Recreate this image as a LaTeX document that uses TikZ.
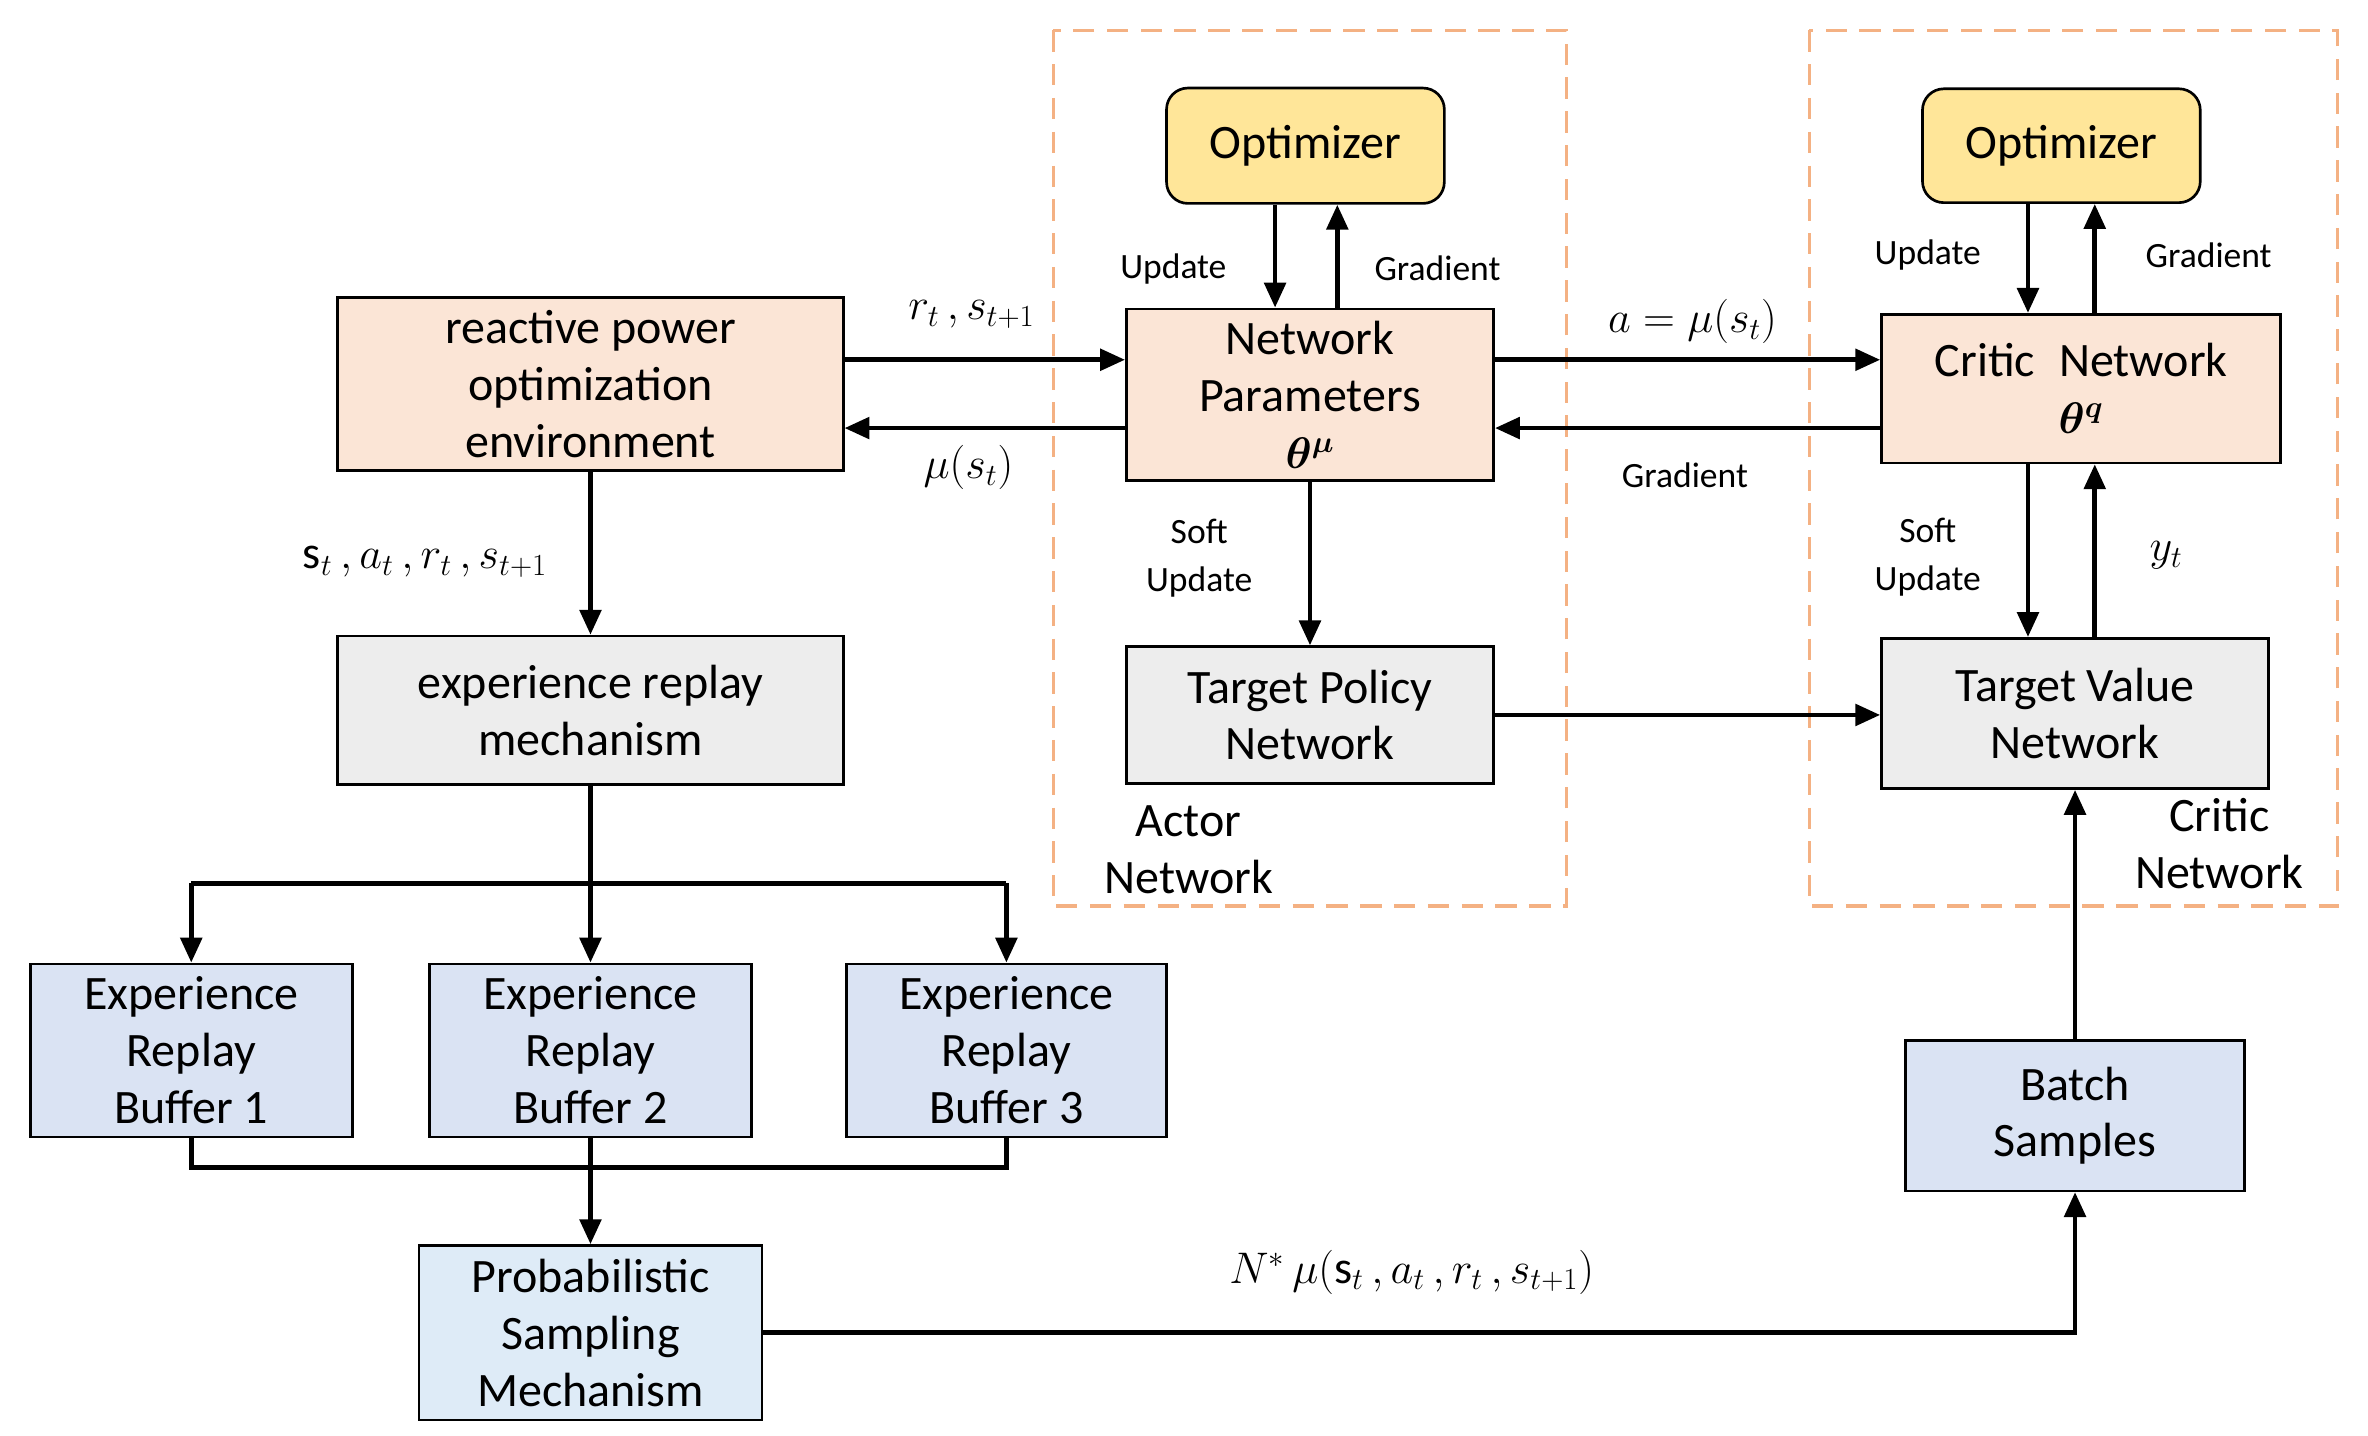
\documentclass[tikz,border=0pt]{standalone}
\usepackage{amsmath}
\usepackage{fontspec}
\setmainfont{Carlito}
\usetikzlibrary{arrows.meta}
\definecolor{peach}{HTML}{FBE5D6}
\definecolor{ylw}{HTML}{FFE699}
\definecolor{gry}{HTML}{EDEDED}
\definecolor{blu}{HTML}{DAE3F3}
\definecolor{lblu}{HTML}{DEEBF7}
\definecolor{orng}{HTML}{F4B183}
\begin{document}
\begin{tikzpicture}[x=0.03cm,y=-0.03cm,
  box/.style={draw,line width=1.5pt,align=center,font=\fontsize{27}{32}\selectfont,inner sep=0pt},
  arr/.style={line width=2.6pt,-{Triangle[length=14pt,width=12pt]}},
  ln/.style={line width=2.6pt},
  sm/.style={font=\fontsize{20}{27}\selectfont,align=center},
  mth/.style={font=\fontsize{26}{30}\selectfont}]
\useasboundingbox (0,0) rectangle (1560,946);
\draw[orng,dashed,line width=2pt,dash pattern=on 12pt off 7pt] (694,20) rectangle (1032,597);
\draw[orng,dashed,line width=2pt,dash pattern=on 12pt off 7pt] (1192,20) rectangle (1540,597);
\node[box,fill=peach,minimum width=9.99cm,minimum height=3.42cm] (env) at (389,253) {reactive power\\optimization\\environment};
\node[box,fill=peach,minimum width=7.26cm,minimum height=3.39cm] (np) at (863,260) {Network\\Parameters\\$\boldsymbol{\theta^{\mu}}$};
\node[box,fill=peach,minimum width=7.89cm,minimum height=2.94cm] (cn) at (1371,256) {Critic\enspace Network\\$\boldsymbol{\theta^{q}}$};
\node[box,fill=ylw,rounded corners=12pt,minimum width=5.49cm,minimum height=2.28cm] (o1) at (860,96) {Optimizer};
\node[box,fill=ylw,rounded corners=12pt,minimum width=5.49cm,minimum height=2.25cm] (o2) at (1358,96) {Optimizer};
\node[box,fill=gry,minimum width=9.99cm,minimum height=2.94cm] (erm) at (389,468) {experience replay\\mechanism};
\node[box,fill=gry,minimum width=7.26cm,minimum height=2.7cm] (tpn) at (863,471) {Target Policy\\Network};
\node[box,fill=gry,minimum width=7.65cm,minimum height=2.97cm] (tvn) at (1367,470) {Target Value\\Network};
\node[box,fill=blu,minimum width=6.36cm,minimum height=3.42cm] (b1) at (126,692) {Experience\\Replay\\Buffer 1};
\node[box,fill=blu,minimum width=6.36cm,minimum height=3.42cm] (b2) at (389,692) {Experience\\Replay\\Buffer 2};
\node[box,fill=blu,minimum width=6.33cm,minimum height=3.42cm] (b3) at (663,692) {Experience\\Replay\\Buffer 3};
\node[box,fill=lblu,minimum width=6.78cm,minimum height=3.45cm] (psm) at (389,878) {Probabilistic\\Sampling\\Mechanism};
\node[box,fill=blu,minimum width=6.69cm,minimum height=2.97cm] (bs) at (1367,735) {Batch\\Samples};
% env <-> np
\draw[arr] (env.east|-0,237) -- (np.west|-0,237);
\draw[arr] (np.west|-0,282) -- (env.east|-0,282);
\node[mth] (l1) at (640,207) {$r_t\,,s_{t+1}$};
\node[mth] (l2) at (638,308) {$\mu(s_t)$};
\draw[arr] (np.east|-0,237) -- (cn.west|-0,237);
\draw[arr] (cn.west|-0,282) -- (np.east|-0,282);
\node[mth] (l3) at (1115,212) {$a=\mu(s_t)$};
\node[sm] (l4) at (1110,313) {Gradient};
% optimizers
\draw[arr] (o1.south-|840,0) -- (np.north-|840,0);
\draw[arr] (np.north-|881,0) -- (o1.south-|881,0);
\node[sm] (l5) at (773,177) {Update};
\node[sm] (l6) at (947,177) {Gradient};
\draw[arr] (o2.south-|1336,0) -- (cn.north-|1336,0);
\draw[arr] (cn.north-|1380,0) -- (o2.south-|1380,0);
\node[sm] (l7) at (1270,168) {Update};
\node[sm] (l8) at (1455,168) {Gradient};
% soft updates
\draw[arr] (np.south) -- (tpn.north);
\node[sm] (l9) at (790,368) {Soft\\Update};
\draw[arr] (cn.south-|1336,0) -- (tvn.north-|1336,0);
\draw[arr] (tvn.north-|1380,0) -- (cn.south-|1380,0);
\node[sm] (l10) at (1270,367) {Soft\\Update};
\node[mth] (l11) at (1427,366) {$y_t$};
\draw[arr] (tpn.east) -- (tvn.west|-tpn.east);
% env -> erm
\draw[arr] (env.south) -- (erm.north);
\node[mth] (l12) at (280,370) {$\mathrm{s}_t\,,a_t\,,r_t\,,s_{t+1}$};
% erm -> buffers
\coordinate (sp) at (389,582);
\draw[ln] (erm.south) -- (sp);
\draw[arr] (126,582) -- (b1.north);
\draw[arr] (sp) -- (b2.north);
\draw[arr] (663,582) -- (b3.north);
\draw[ln] (126,582) -- (663,582);
\coordinate (jn) at (389,769);
\draw[ln] (b1.south) -- (126,769) -- (663,769) -- (b3.south);
\draw[ln] (b2.south) -- (jn);
\draw[arr] (jn) -- (psm.north);
% psm -> batch
\draw[arr] (psm.east|-0,878) -- (1367,878) -- (bs.south);
\node[mth] (l13) at (930,838) {$N^*\,\mu(\mathrm{s}_t\,,a_t\,,r_t\,,s_{t+1})$};
\draw[arr] (bs.north) -- (tvn.south);
\node[align=center,font=\fontsize{27}{32}\selectfont] (an) at (783,560) {Actor\\Network};
\node[align=center,font=\fontsize{27}{32}\selectfont] (cnl) at (1462,556) {Critic\\Network};
\end{tikzpicture}
\end{document}
